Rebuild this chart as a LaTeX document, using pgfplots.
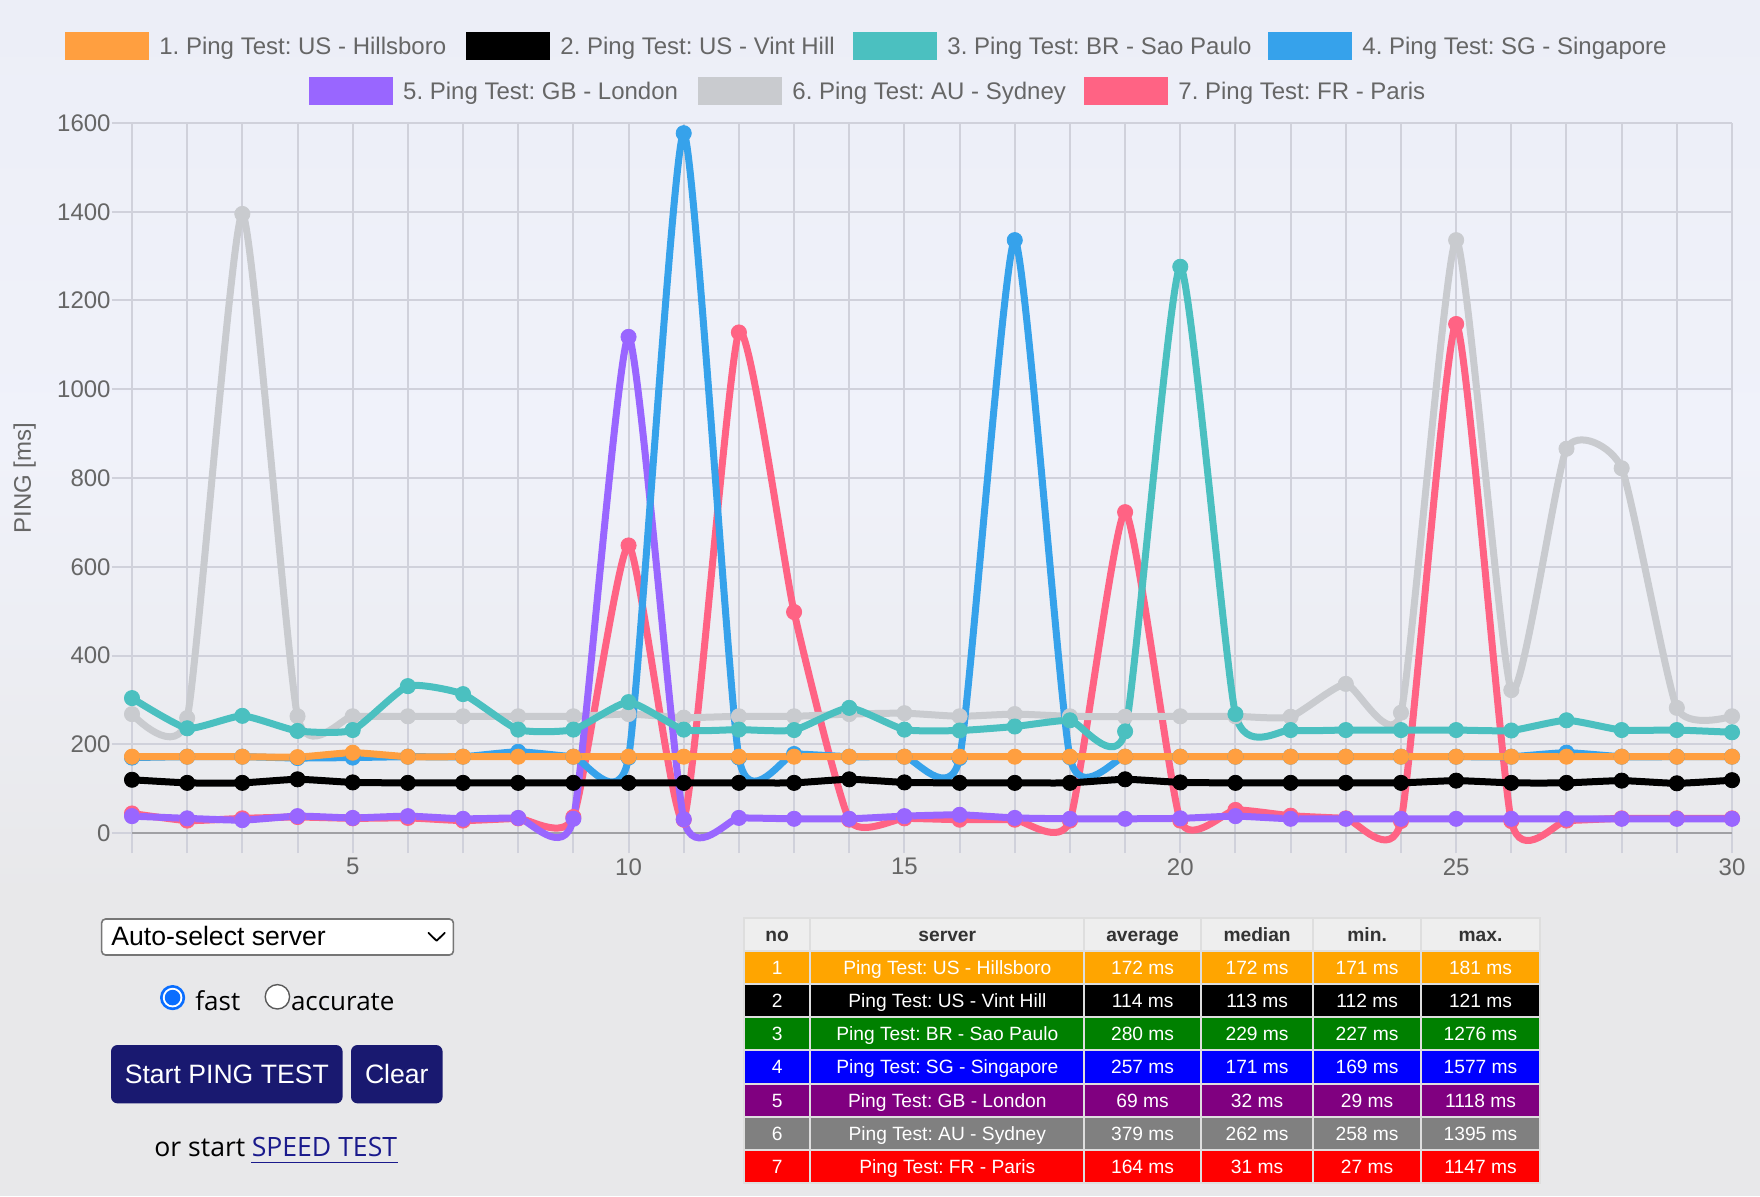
\documentclass[border=0pt]{standalone}
\usepackage{pgfplots}
\pgfplotsset{compat=1.18}
\usepackage{fontspec}
\setmainfont{Liberation Sans}
\newfontfamily\osfont{Open Sans}
\newcommand{\fs}[1]{\fontsize{#1}{#1}\selectfont}

\definecolor{cOrange}{RGB}{255,159,64}
\definecolor{cTeal}{RGB}{75,192,192}
\definecolor{cBlue}{RGB}{54,162,235}
\definecolor{cPurple}{RGB}{153,102,255}
\definecolor{cGrey}{RGB}{201,203,207}
\definecolor{cRed}{RGB}{255,99,132}
\definecolor{gridc}{RGB}{208,209,219}
\definecolor{zeroc}{RGB}{160,160,164}
\definecolor{tickc}{RGB}{102,102,102}
\definecolor{btn}{RGB}{25,25,112}
\definecolor{linkc}{RGB}{26,26,140}
\definecolor{radioblue}{RGB}{10,110,255}
\definecolor{tOrange}{RGB}{255,165,0}
\definecolor{tGreen}{RGB}{0,128,0}
\definecolor{tBlue}{RGB}{0,0,255}
\definecolor{tPurple}{RGB}{128,0,128}
\definecolor{tGrey}{RGB}{128,128,128}
\definecolor{tRed}{RGB}{255,0,0}
\definecolor{thead}{RGB}{238,238,238}
\definecolor{tline}{RGB}{222,222,222}
\definecolor{bgtop}{RGB}{236,238,247}
\definecolor{bgmid}{RGB}{240,242,250}
\definecolor{bgbot}{RGB}{232,232,234}

\pgfplotsset{
  ser/.style={smooth, tension=0.32, color=#1, line width=3.5pt, line join=round, line cap=round,
    mark=*, mark size=3.8pt, mark options={fill=#1, draw=#1, line width=0.4pt, solid}},
}

\newcommand{\legitem}[4]{%
  \fill[#3] (#1pt,#2pt-7pt) rectangle (#1pt+42pt,#2pt+7pt);
  \node[anchor=base west, inner sep=0pt, text=tickc, font=\fs{12}] at (#1pt+47pt,#2pt-4.3pt) {#4};
}

\begin{document}
\frenchspacing
\begin{tikzpicture}
\useasboundingbox (0pt,0pt) rectangle (880pt,598pt);
\fill[bgbot] (0pt,0pt) rectangle (880pt,598pt);
\shade[top color=bgtop, bottom color=bgbot, middle color=bgmid] (0pt,150pt) rectangle (880pt,598pt);

\begin{axis}[
  at={(66pt,181.5pt)}, anchor=south west,
  scale only axis, width=800pt, height=355pt,
  xmin=1, xmax=30, ymin=0, ymax=1600,
  clip=false,
  axis line style={draw=none},
  xtick={1,...,30},
  xticklabels={,,,,5,,,,,10,,,,,15,,,,,20,,,,,25,,,,,30},
  ytick={200,400,...,1600},
  extra y ticks={0},
  extra y tick style={grid=major, major grid style={draw=zeroc, line width=1pt}},
  grid=major,
  major grid style={draw=gridc, line width=1pt},
  tick align=outside,
  major tick length=10pt,
  tick pos=left,
  every tick/.style={draw=gridc, line width=1pt},
  /pgf/number format/assume math mode=true,
  /pgf/number format/1000 sep={},
  ticklabel style={font=\fs{12}, text=tickc, inner sep=1pt},
  xticklabel style={anchor=north, yshift=-1.5pt},
  yticklabel style={anchor=east, xshift=0.5pt},
  scaled y ticks=false,
]
% 7. Paris
\addplot[ser=cRed] coordinates {(1,44)(2,28)(3,33)(4,36)(5,33)(6,34)(7,28)(8,33)(9,36)(10,648)(11,30)(12,1128)(13,498)(14,30)(15,33)(16,30)(17,30)(18,28)(19,723)(20,28)(21,52)(22,39)(23,33)(24,27)(25,1147)(26,27)(27,28)(28,33)(29,33)(30,33)};
% 6. Sydney
\addplot[ser=cGrey] coordinates {(1,268)(2,259)(3,1395)(4,263)(5,263)(6,263)(7,263)(8,263)(9,263)(10,268)(11,260)(12,263)(13,263)(14,268)(15,270)(16,263)(17,268)(18,263)(19,262)(20,263)(21,263)(22,262)(23,336)(24,271)(25,1336)(26,322)(27,866)(28,822)(29,282)(30,263)};
% 5. London
\addplot[ser=cPurple] coordinates {(1,38)(2,33)(3,29)(4,38)(5,34)(6,38)(7,32)(8,34)(9,32)(10,1118)(11,31)(12,34)(13,32)(14,32)(15,38)(16,41)(17,34)(18,32)(19,32)(20,33)(21,38)(22,32)(23,32)(24,32)(25,32)(26,32)(27,32)(28,32)(29,32)(30,32)};
% 4. Singapore
\addplot[ser=cBlue] coordinates {(1,170)(2,172)(3,172)(4,169)(5,170)(6,172)(7,172)(8,183)(9,172)(10,170)(11,1577)(12,170)(13,178)(14,172)(15,172)(16,169)(17,1336)(18,171)(19,172)(20,172)(21,172)(22,172)(23,172)(24,172)(25,172)(26,172)(27,181)(28,172)(29,172)(30,172)};
% 3. Sao Paulo
\addplot[ser=cTeal] coordinates {(1,304)(2,236)(3,264)(4,230)(5,232)(6,331)(7,313)(8,233)(9,233)(10,295)(11,233)(12,233)(13,232)(14,282)(15,233)(16,231)(17,240)(18,254)(19,229)(20,1276)(21,268)(22,232)(23,232)(24,232)(25,232)(26,231)(27,254)(28,232)(29,232)(30,227)};
% 2. Vint Hill
\addplot[ser=black] coordinates {(1,120)(2,113)(3,113)(4,121)(5,114)(6,113)(7,113)(8,113)(9,113)(10,113)(11,113)(12,113)(13,113)(14,121)(15,114)(16,113)(17,113)(18,113)(19,121)(20,114)(21,113)(22,113)(23,113)(24,113)(25,118)(26,113)(27,113)(28,118)(29,112)(30,119)};
% 1. Hillsboro
\addplot[ser=cOrange] coordinates {(1,172)(2,172)(3,172)(4,171)(5,181)(6,172)(7,172)(8,172)(9,172)(10,172)(11,172)(12,172)(13,172)(14,172)(15,172)(16,172)(17,172)(18,172)(19,172)(20,172)(21,172)(22,172)(23,172)(24,172)(25,172)(26,172)(27,172)(28,172)(29,172)(30,172)};
\end{axis}

% y axis title
\node[rotate=90, text=tickc, font=\fs{12}, inner sep=0pt] at (12.3pt,359pt) {PING [ms]};

% legend
\legitem{32.5}{575}{cOrange}{1. Ping Test: US - Hillsboro}
\legitem{233}{575}{black}{2. Ping Test: US - Vint Hill}
\legitem{426.5}{575}{cTeal}{3. Ping Test: BR - Sao Paulo}
\legitem{634}{575}{cBlue}{4. Ping Test: SG - Singapore}
\legitem{154.4}{552.5}{cPurple}{5. Ping Test: GB - London}
\legitem{349}{552.5}{cGrey}{6. Ping Test: AU - Sydney}
\legitem{542}{552.5}{cRed}{7. Ping Test: FR - Paris}

% select box
\draw[fill=white, draw={rgb,255:red,118;green,118;blue,118}, line width=0.8pt, rounded corners=2pt] (50.8pt,120.5pt) rectangle (226.7pt,138.5pt);
\node[anchor=base west, inner sep=0pt, font=\fs{13.3}] at (55.5pt,125.3pt) {Auto-select server};
\draw[line width=0.9pt, line cap=round, line join=round] (214.2pt,131.6pt) -- (218.3pt,127.6pt) -- (222.4pt,131.6pt);

% radio buttons
\fill[radioblue] (86.3pt,99.2pt) circle (6.3pt);
\fill[white] (86.3pt,99.2pt) circle (4.9pt);
\fill[radioblue] (86.3pt,99.2pt) circle (3.9pt);
\node[anchor=base west, inner sep=0pt, font=\osfont\fs{13}] at (97.5pt,93pt) {fast};
\draw[fill=white, draw={rgb,255:red,90;green,90;blue,90}, line width=0.7pt] (138.7pt,99.6pt) circle (6.1pt);
\node[anchor=base west, inner sep=0pt, font=\osfont\fs{13}] at (145.3pt,93pt) {accurate};

% buttons
\fill[btn, rounded corners=3.3pt] (55.5pt,46.3pt) rectangle (171.3pt,75.5pt);
\node[anchor=base, inner sep=0pt, text=white, font=\fs{13.3}] at (113.4pt,56.3pt) {Start PING TEST};
\fill[btn, rounded corners=3.3pt] (175.5pt,46.3pt) rectangle (221.3pt,75.5pt);
\node[anchor=base, inner sep=0pt, text=white, font=\fs{13.3}] at (198.4pt,56.3pt) {Clear};

% link
\node[anchor=base west, inner sep=0pt, font=\osfont\fs{13.3}] at (77pt,19.7pt) {or start};
\node[anchor=base west, inner sep=0pt, font=\osfont\fs{13.3}, text=linkc] (spd) at (125.7pt,19.7pt) {SPEED TEST};
\draw[linkc, line width=0.7pt] ([yshift=-2.8pt]spd.base west) -- ([yshift=-2.8pt]spd.base east);

% table
\fill[thead] (372pt,122.5pt) rectangle (770pt,139pt);
\foreach \xc/\hd in {388.6/no, 473.65/server, 571.3/average, 628.55/median, 683.55/min., 740.25/max.}
  \node[anchor=base, inner sep=0pt, text={rgb,255:red,51;green,51;blue,51}, font=\fs{9.6}\bfseries] at (\xc pt,127.3pt) {\hd};
\foreach \i/\col/\srv/\av/\md/\mn/\mx in {
  1/tOrange/{Ping Test: US - Hillsboro}/172/172/171/181,
  2/black/{Ping Test: US - Vint Hill}/114/113/112/121,
  3/tGreen/{Ping Test: BR - Sao Paulo}/280/229/227/1276,
  4/tBlue/{Ping Test: SG - Singapore}/257/171/169/1577,
  5/tPurple/{Ping Test: GB - London}/69/32/29/1118,
  6/tGrey/{Ping Test: AU - Sydney}/379/262/258/1395,
  7/tRed/{Ping Test: FR - Paris}/164/31/27/1147}
{
  \pgfmathsetmacro\yt{122.5-(\i-1)*16.5714}
  \pgfmathsetmacro\yb{\yt-16.5714}
  \pgfmathsetmacro\yc{\yt-8.2857-3.45}
  \fill[\col] (372pt,\yb pt) rectangle (770pt,\yt pt);
  \begin{scope}[every node/.style={anchor=base, inner sep=0pt, text=white, font=\fs{9.6}}]
  \node at (388.6pt,\yc pt) {\i};
  \node at (473.65pt,\yc pt) {\srv};
  \node at (571.3pt,\yc pt) {\av{} ms};
  \node at (628.55pt,\yc pt) {\md{} ms};
  \node at (683.55pt,\yc pt) {\mn{} ms};
  \node at (740.25pt,\yc pt) {\mx{} ms};
  \end{scope}
}
\foreach \xx in {405.2,542.1,600.5,656.6,710.5}
  \draw[tline, line width=1pt] (\xx pt,6.5pt) -- (\xx pt,139pt);
\foreach \i in {0,...,6}{
  \pgfmathsetmacro\yl{122.5-\i*16.5714}
  \draw[tline, line width=1pt] (372pt,\yl pt) -- (770pt,\yl pt);
}
\draw[tline, line width=1pt] (372pt,6.5pt) rectangle (770pt,139pt);
\end{tikzpicture}
\end{document}
